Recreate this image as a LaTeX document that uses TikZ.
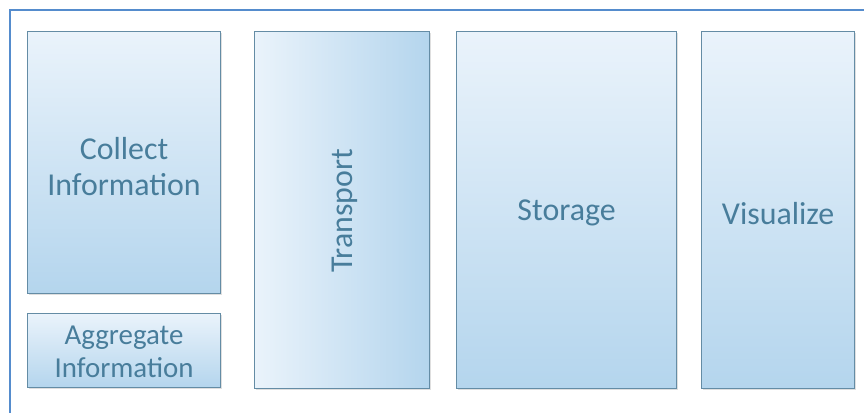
\documentclass[tikz,border=0pt]{standalone}
\usepackage{fontspec}
\setmainfont{Carlito}
\usetikzlibrary{shadows}
\definecolor{frameblue}{RGB}{85,140,205}
\definecolor{boxedge}{RGB}{100,140,165}
\definecolor{boxtop}{RGB}{234,243,251}
\definecolor{boxbot}{RGB}{180,213,237}
\definecolor{txt}{RGB}{72,125,155}
\tikzset{
  panel/.style={draw=boxedge, line width=1.1pt, rectangle, anchor=north west,
    inner sep=0pt, top color=boxtop, bottom color=boxbot,
    drop shadow={shadow xshift=1.2pt, shadow yshift=-1.2pt, opacity=0.25},
    text=txt, align=center},
  bigtxt/.style={font=\fontsize{32}{36}\selectfont, text=txt, align=center},
  smalltxt/.style={font=\fontsize{29}{33}\selectfont, text=txt, align=center}
}
\begin{document}
\begin{tikzpicture}[x=1bp,y=-1bp]
\useasboundingbox (0,0) rectangle (864,412);
\fill[white] (0,0) rectangle (864,412);
\coordinate (fb) at (9.5,413);
\coordinate (ftl) at (9.5,9.5);
\coordinate (ftr) at (865,9.5);
\draw[frameblue, line width=2bp] (fb) -- (ftl) -- (ftr);
\node[panel, minimum width=193bp, minimum height=262bp] (collect) at (27,31) {};
\node[bigtxt] (collectt) at ([yshift=-4bp]collect.center) {Collect\\Information};
\node[panel, minimum width=193bp, minimum height=74bp] (aggr) at (27,313) {};
\node[smalltxt] (aggrt) at ([yshift=-1bp]aggr.center) {Aggregate\\Information};
\node[panel, top color=boxtop, bottom color=boxtop, left color=boxtop, right color=boxbot, minimum width=175bp, minimum height=357bp] (transport) at (254,31) {};
\node[bigtxt, rotate=90] (transportt) at ([xshift=3bp,yshift=-1bp]transport.center) {Transport};
\node[panel, minimum width=220bp, minimum height=357bp] (storage) at (456,31) {};
\node[bigtxt] (storaget) at ([yshift=-3bp]storage.center) {Storage};
\node[panel, minimum width=153bp, minimum height=357bp] (visual) at (701,31) {};
\node[bigtxt] (visualt) at ([yshift=-3bp]visual.center) {Visualize};
\end{tikzpicture}
\end{document}
